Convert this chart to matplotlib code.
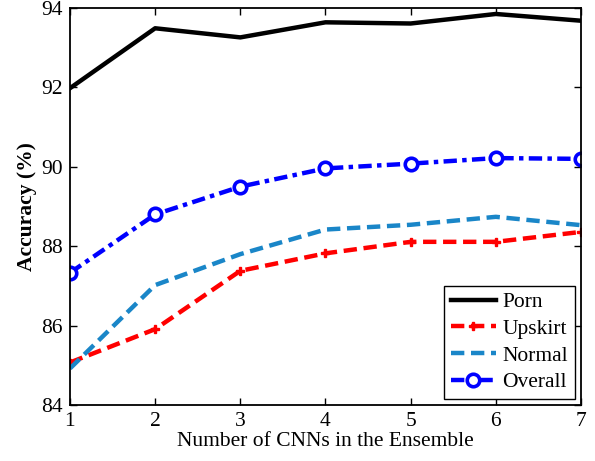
import matplotlib
matplotlib.use("Agg")
import matplotlib.pyplot as plt

x = [1, 2, 3, 4, 5, 6, 7]
porn = [91.98, 93.49, 93.26, 93.64, 93.61, 93.85, 93.68]
upskirt = [85.07, 85.91, 87.38, 87.82, 88.11, 88.11, 88.36]
normal = [84.92, 87.02, 87.80, 88.42, 88.54, 88.74, 88.53]
overall = [87.33, 88.80, 89.50, 89.96, 90.08, 90.22, 90.20]
labels = ["Porn", "Upskirt", "Normal", "Overall"]

plt.rcParams['font.family'] = ['Liberation Serif', 'DejaVu Serif']

fig = plt.figure(figsize=(5.95, 4.61), dpi=100)
ax = fig.add_axes([0.1176, 0.1215, 0.8589, 0.8611])

ax.plot(x, porn, color='black', lw=3.2, label=labels[0])
ax.plot(x, upskirt, color='#ff0000', lw=3.2, ls=(0, (3, 1.5)), marker='P', ms=6,
        label=labels[1])
ax.plot(x, normal, color='#1a86c8', lw=3.2, ls=(0, (3, 1.5)), label=labels[2])
ax.plot(x, overall, color='#0000ff', lw=3.2, ls=(0, (3, 1.2, 1, 1.2)), marker='o', ms=9,
        mfc='white', mew=2.6, label=labels[3])

ax.set_xlim(1, 7)
ax.set_ylim(84, 94)
ax.set_xticks(x)
ax.set_yticks([84, 86, 88, 90, 92, 94])
ax.tick_params(direction='in', top=True, right=True, labelsize=15.5, length=5, width=1, pad=5)
for s in ax.spines.values():
    s.set_linewidth(1.3)
ax.set_xlabel("Number of CNNs in the Ensemble", fontsize=15.5, labelpad=1)
ax.set_ylabel("Accuracy (%)", fontsize=15.5, fontweight='bold', labelpad=3)

leg = ax.legend(loc='lower right', fontsize=15.5, fancybox=False, edgecolor='black',
                framealpha=1, borderaxespad=0.3, handlelength=2.1, labelspacing=0.3,
                borderpad=0.3, handletextpad=0.3)
leg.get_frame().set_linewidth(1.0)

fig.savefig("out.png", dpi=100)
